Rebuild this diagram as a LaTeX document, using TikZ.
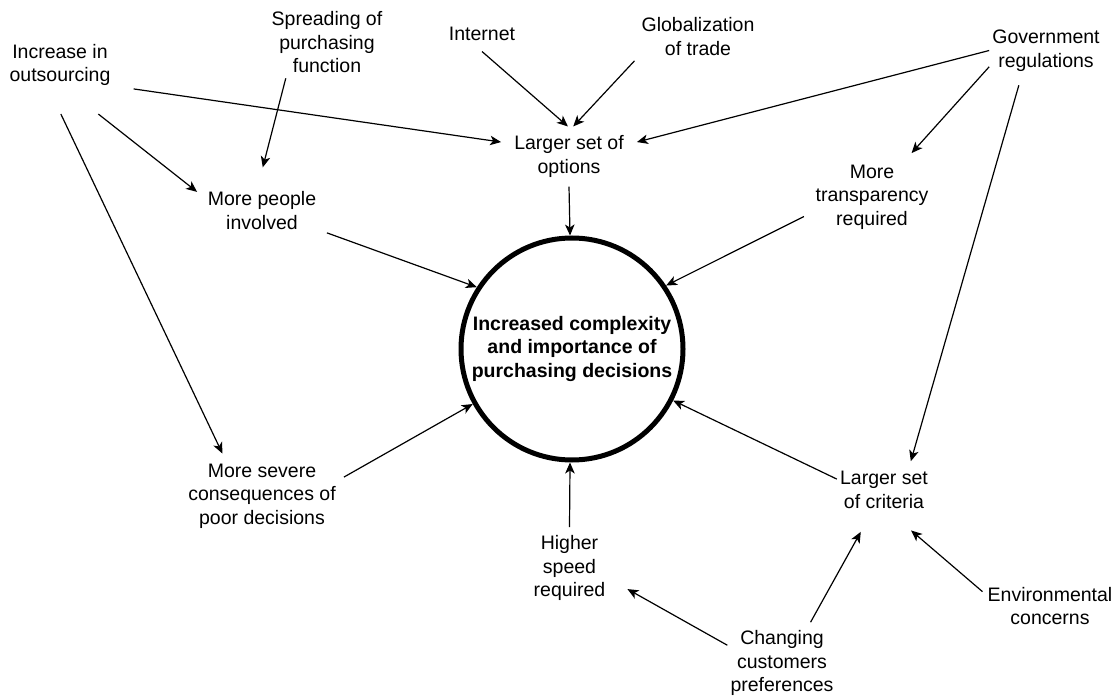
\documentclass[tikz,border=0pt]{standalone}
\usepackage{fontspec}
\setmainfont{Liberation Sans}
\usetikzlibrary{arrows.meta}

\begin{document}
\begin{tikzpicture}[x=1pt, y=-1pt,
    txt/.style={align=center, font=\fontsize{19.5}{23.5}\selectfont},
    arr/.style={line width=1.2pt, -{Stealth[length=11pt, width=9.5pt, inset=3pt]}}]
\useasboundingbox (0,0) rectangle (1118,700);

% causes
\node[txt, inner xsep=23pt, inner ysep=28pt] (inc) at (60,65) {Increase in\\outsourcing};
\node[txt, inner sep=5pt] (spr) at (327,42.5) {Spreading of\\purchasing\\function};
\node[txt, inner xsep=5pt, inner ysep=11pt] (int) at (482,33.5) {Internet};
\node[txt, inner xsep=7pt, inner ysep=6.5pt] (glo) at (698,36.5) {Globalization\\of trade};
\node[txt, inner xsep=3pt, inner ysep=14pt] (gov) at (1046,50.5) {Government\\regulations};
\node[txt, inner sep=5pt] (env) at (1050,606) {Environmental\\concerns};
\node[txt, inner xsep=3pt, inner ysep=8pt] (chg) at (782,663) {Changing\\customers\\preferences};

% effects
\node[txt, inner xsep=13pt, inner ysep=9pt] (opt) at (569,156.5) {Larger set of\\options};
\node[txt, inner xsep=10.5pt, inner ysep=24pt] (ppl) at (262,210.5) {More people\\involved};
\node[txt, inner sep=11.5pt] (tra) at (872,197) {More\\transparency\\required};
\node[txt, inner xsep=8pt, inner ysep=10pt] (sev) at (262,496) {More severe\\consequences of\\poor decisions};
\node[txt, inner xsep=3pt, inner ysep=10pt] (cri) at (884,490) {Larger set\\of criteria};
\node[txt, inner xsep=22pt, inner ysep=8pt] (spd) at (569.5,568) {Higher\\speed\\required};

\node[draw, circle, line width=5pt, minimum size=222pt, inner sep=0pt, align=center,
      font=\bfseries\fontsize{19.5}{23.5}\selectfont] (core) at (572,349)
      {Increased complexity\\and importance of\\purchasing decisions};

\draw[arr] (inc.-18) -- (opt.168);
\draw[arr] (inc.-52) -- (ppl.164);
\draw[arr] (inc.-89) -- (sev.133);
\draw[arr] (spr.-139) -- (ppl.89);
\draw[arr] (int.-90) -- (opt.92);
\draw[arr] (glo.-159) -- (opt.82);
\draw[arr] (gov.180) -- (opt.12);
\draw[arr] (gov.-164) -- (tra.48);
\draw[arr] (gov.-128) -- (cri.47);

\draw[arr] (opt.-90) -- (core.91);
\draw[arr] (ppl.-19) -- (core.147);
\draw[arr] (tra.-164) -- (core.34);
\draw[arr] (sev.13) -- (core.-151);
\draw[arr] (cri.167) -- (core.-27);
\draw[arr] (spd.90) -- (core.-91);

\draw[arr] (chg.162) -- (spd.-20);
\draw[arr, shorten >=15pt] (chg.55) -- (cri.-119);
\draw[arr, shorten >=18pt] (env.168) -- (cri.-65);
\end{tikzpicture}
\end{document}
